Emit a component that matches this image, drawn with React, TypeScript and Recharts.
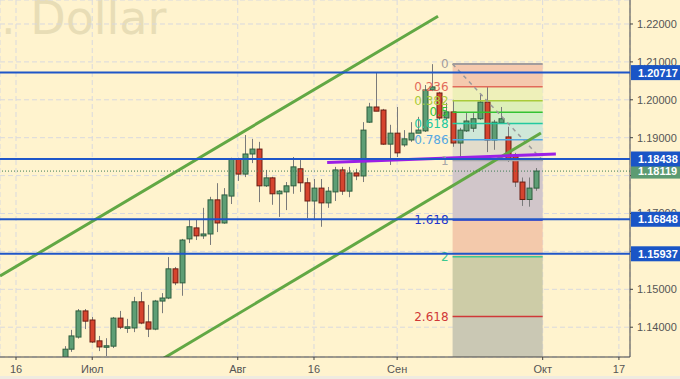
import React from 'react';
import {
  ComposedChart,
  Bar,
  XAxis,
  YAxis,
  CartesianGrid,
  ReferenceLine,
  ReferenceArea,
} from 'recharts';

// ---- candle data (bar index = trading day counted from 16 Jun) ----
const barIndex = [
  7, 8, 9, 10, 11, 12, 13, 14, 15, 16, 17, 18, 19, 20, 21, 22, 23, 24, 25, 26,
  27, 28, 29, 30, 31, 32, 33, 34, 35, 36, 37, 38, 39, 40, 41, 42, 43, 44, 45, 46,
  47, 48, 49, 50, 51, 52, 53, 54, 55, 56, 57, 58, 59, 60, 61, 62, 63, 64, 65, 66,
  67, 68, 69, 70, 71, 72, 73, 74, 75,
];
const opens = [
  1.13, 1.1342, 1.1374, 1.1443, 1.1419, 1.1364, 1.135, 1.135, 1.1424, 1.1398,
  1.1398, 1.1467, 1.1414, 1.1395, 1.1469, 1.1477, 1.1554, 1.1517, 1.1633, 1.1662,
  1.1641, 1.1646, 1.1736, 1.1675, 1.1746, 1.1844, 1.1804, 1.1857, 1.187, 1.1773,
  1.1794, 1.1752, 1.1757, 1.1773, 1.1818, 1.1781, 1.1733, 1.1767, 1.1728, 1.1757,
  1.1815, 1.1759, 1.1807, 1.1799, 1.1941, 1.1981, 1.1973, 1.1883, 1.1912, 1.1881,
  1.1894, 1.1912, 1.1918, 1.2026, 1.2018, 1.1952, 1.1968, 1.1886, 1.1918, 1.1925,
  1.195, 1.1994, 1.1894, 1.1939, 1.1902, 1.185, 1.1783, 1.1737, 1.1767,
];
const highs = [
  1.135, 1.1393, 1.1448, 1.1448, 1.1427, 1.1377, 1.1371, 1.1427, 1.1443, 1.1422,
  1.148, 1.1493, 1.1459, 1.1472, 1.149, 1.1585, 1.1559, 1.1633, 1.1686, 1.1683,
  1.1715, 1.1744, 1.178, 1.1767, 1.1847, 1.1847, 1.1907, 1.1897, 1.1889, 1.1815,
  1.1797, 1.1762, 1.1783, 1.1849, 1.1841, 1.1794, 1.1791, 1.1791, 1.177, 1.1823,
  1.1823, 1.1823, 1.1818, 1.1941, 1.1992, 1.2073, 1.1976, 1.1934, 1.1981, 1.192,
  1.1941, 1.1955, 1.2039, 1.2094, 1.2021, 1.1992, 1.2, 1.1926, 1.1965, 1.1965,
  1.2013, 1.2036, 1.1947, 1.1981, 1.1929, 1.186, 1.1795, 1.1795, 1.182,
];
const lows = [
  1.129, 1.1335, 1.137, 1.1395, 1.1358, 1.1337, 1.1324, 1.1345, 1.1395, 1.1385,
  1.1387, 1.1408, 1.1374, 1.1392, 1.1437, 1.1474, 1.1511, 1.1483, 1.1622, 1.163,
  1.1633, 1.1617, 1.1651, 1.1673, 1.1725, 1.1786, 1.1796, 1.1833, 1.173, 1.177,
  1.1723, 1.1691, 1.1709, 1.1752, 1.1757, 1.1688, 1.1686, 1.1665, 1.1715, 1.1733,
  1.1749, 1.1743, 1.1788, 1.1783, 1.1939, 1.197, 1.1881, 1.1828, 1.1849, 1.1876,
  1.1889, 1.1912, 1.1915, 1.2023, 1.1947, 1.1947, 1.1876, 1.1841, 1.1915, 1.1915,
  1.1947, 1.1862, 1.1868, 1.1939, 1.1836, 1.177, 1.172, 1.1718, 1.176,
];
const closes = [
  1.1342, 1.1377, 1.1443, 1.1416, 1.1361, 1.1348, 1.1351, 1.1424, 1.14, 1.1401,
  1.1467, 1.1411, 1.1395, 1.1469, 1.1477, 1.1554, 1.1517, 1.163, 1.1665, 1.1641,
  1.1646, 1.1736, 1.1675, 1.1749, 1.1844, 1.1804, 1.1857, 1.187, 1.1773, 1.1794,
  1.1752, 1.1759, 1.1773, 1.1823, 1.1781, 1.1733, 1.1767, 1.1728, 1.1759, 1.1815,
  1.1759, 1.1807, 1.1799, 1.192, 1.1981, 1.197, 1.1883, 1.1912, 1.186, 1.1897,
  1.1912, 1.192, 1.2026, 1.2034, 1.1952, 1.1968, 1.1886, 1.192, 1.1944, 1.195,
  1.1994, 1.1894, 1.1941, 1.195, 1.1844, 1.1783, 1.1737, 1.1767, 1.1812,
];

// ---- axes ----
const xTickIndex = [0, 11, 32, 43, 55, 76, 87];
const xTickLabels = ['16', 'Июл', 'Авг', '16', 'Сен', 'Окт', '17'];
const priceTicks = [1.14, 1.15, 1.16, 1.17, 1.18, 1.19, 1.2, 1.21, 1.22];
// tick labels fully covered by price tags in the reference
const hiddenPriceTicks = [1.16, 1.18];
const xDomain = [-2.309, 88.6];
const yDomain = [1.13214, 1.22633];

// ---- horizontal levels ----
const levelPrices = [1.20717, 1.18438, 1.16848, 1.15937];
const levelLabels = ['1.20717', '1.18438', '1.16848', '1.15937'];
const currentPrice = 1.18119;
const currentLabel = '1.18119';

// ---- fibonacci ----
const fibHigh = 1.20945;
const fibLow = 1.18401;
const fibStart = 63;
const fibEnd = 76;
const fibRatios = [0, 0.236, 0.382, 0.5, 0.618, 0.786, 1, 1.618, 2, 2.618];
const fibLabels = ['0', '0.236', '0.382', '0.5', '0.618', '0.786', '1', '1.618', '2', '2.618'];
const fibLineColors = ['#a39c9c', '#e26a5a', '#a9cb3a', '#33c233', '#22c9a0', '#55a8e0', '#a8a8a8', '#2233cc', '#3cc890', '#d03838'];
// band k lies between ratio k and ratio k+1 (last band: 2.618 down to the bottom)
const fibBandColors = ['#f5c9ae', '#eef0b9', '#ddefb9', '#d2eec6', '#cfe8d8', '#e2dccb', '#d1c6ca', '#f3c9ab', '#cdcca7', '#cac8b4'];

// ---- trend lines (bar index, price) ----
const channelUpper = [{ x: -2.3, y: 1.15351 }, { x: 60.9, y: 1.22206 }];
const channelLower = [{ x: 21.3, y: 1.1318 }, { x: 75.75, y: 1.19124 }];
const purpleLine = [{ x: 44.9, y: 1.18346 }, { x: 77.9, y: 1.1857 }];

const data = barIndex.map((i, k) => ({
  i,
  open: opens[k],
  high: highs[k],
  low: lows[k],
  close: closes[k],
}));

const fibPrice = (r: number) => fibHigh - (fibHigh - fibLow) * r;

const Candle = (props: any) => {
  const { x, y, width, height } = props;
  const p = props.payload || props;
  const { open, close, high, low } = p;
  if (x == null || y == null) return null;
  const cx = Math.round(x + width / 2) + 0.5;
  const range = high - low;
  const ppu = range > 0 ? height / range : 0;
  const top = y + (high - Math.max(open, close)) * ppu;
  const bot = y + (high - Math.min(open, close)) * ppu;
  const up = close >= open;
  const bh = Math.max(bot - top, 1.5);
  return (
    <g>
      <line x1={cx} x2={cx} y1={y} y2={y + height} stroke="#7a7a7a" strokeWidth={1} />
      <rect
        x={cx - 2.5}
        y={top}
        width={5}
        height={bh}
        fill={up ? '#5e9e75' : '#d6442e'}
        stroke={up ? '#2e5e3e' : '#6b1d12'}
        strokeWidth={1}
      />
    </g>
  );
};

const PriceTag = (props: any) => {
  const vb = props.viewBox || {};
  const yy = vb.y + (vb.height || 0) / 2;
  const xx = vb.x + vb.width;
  return (
    <g>
      <rect x={xx + 1} y={yy - 7.5} width={50} height={15} fill={props.color} />
      <text
        x={xx + 8}
        y={yy + 4}
        fill="#ffffff"
        fontSize={11}
        fontWeight="bold"
        fontFamily="'Liberation Sans', Arial, sans-serif"
      >
        {props.text}
      </text>
    </g>
  );
};

const bandTop = (k: number) => fibPrice(fibRatios[k]);
const bandBottom = (k: number) =>
  k + 1 < fibRatios.length ? fibPrice(fibRatios[k + 1]) : yDomain[0] + 0.00001;

export default function App() {
  return (
    <div
      style={{
        position: 'absolute',
        left: 0,
        top: 0,
        width: 680,
        height: 379,
        background: '#fff3ce',
        overflow: 'hidden',
      }}
    >
      <div
        style={{
          position: 'absolute',
          left: 1,
          top: -9,
          fontFamily: "'DejaVu Sans', sans-serif",
          fontSize: 46,
          color: '#e8ddb6',
          whiteSpace: 'pre',
          lineHeight: '54px',
        }}
      >
        {'. Dollar'}
      </div>
      <div style={{ position: 'absolute', left: 0, top: 376, width: 680, height: 3, background: '#efebe0' }} />
      <div style={{ position: 'absolute', left: 0, top: 0 }}>
        <ComposedChart
          width={680}
          height={379}
          data={data}
          margin={{ top: 0, right: 0, bottom: 0, left: 0 }}
        >
          <CartesianGrid stroke="#d9d9de" strokeDasharray="5 3" />
          <XAxis
            dataKey="i"
            type="number"
            domain={xDomain}
            allowDataOverflow
            ticks={xTickIndex}
            tickFormatter={(v: number) => xTickLabels[xTickIndex.indexOf(v)] ?? ''}
            height={22}
            tickSize={3}
            tickMargin={5}
            interval={0}
            stroke="#444"
            tick={{ fill: '#555', fontSize: 11, fontFamily: "'Liberation Sans', Arial, sans-serif" }}
          />
          <YAxis
            orientation="right"
            type="number"
            domain={yDomain}
            allowDataOverflow
            ticks={priceTicks}
            tickFormatter={(v: number) =>
              hiddenPriceTicks.some((h) => Math.abs(h - v) < 1e-6) ? '' : v.toFixed(5)
            }
            width={50}
            tickSize={3}
            tickMargin={4}
            interval={0}
            stroke="#444"
            tick={{ fill: '#555', fontSize: 11, fontFamily: "'Liberation Sans', Arial, sans-serif" }}
          />
          {fibRatios.map((r, k) => (
            <ReferenceArea
              key={'band' + k}
              x1={fibStart}
              x2={fibEnd}
              y1={bandTop(k)}
              y2={bandBottom(k)}
              fill={fibBandColors[k]}
              fillOpacity={1}
              stroke="none"
              ifOverflow="hidden"
            />
          ))}
          <Bar
            dataKey={(d: any) => [d.low, d.high]}
            barSize={5}
            shape={<Candle />}
            isAnimationActive={false}
          />
          {fibRatios.map((r, k) => (
            <ReferenceLine
              key={'fib' + k}
              segment={[
                { x: fibStart, y: fibPrice(r) },
                { x: fibEnd, y: fibPrice(r) },
              ]}
              stroke={fibLineColors[k]}
              strokeWidth={k === 0 ? 2 : 1.5}
              ifOverflow="hidden"
              label={{
                value: fibLabels[k],
                position: 'left',
                offset: 4,
                fill: fibLineColors[k],
                fontSize: 12,
                fontFamily: "'DejaVu Sans', sans-serif",
              }}
            />
          ))}
          <ReferenceLine
            segment={[
              { x: fibStart, y: fibHigh },
              { x: fibEnd, y: fibLow },
            ]}
            stroke="#9a9a9a"
            strokeWidth={1.5}
            strokeDasharray="4 4"
            ifOverflow="hidden"
          />
          <ReferenceLine segment={channelUpper} stroke="#62a844" strokeWidth={3} ifOverflow="hidden" />
          <ReferenceLine segment={channelLower} stroke="#62a844" strokeWidth={3} ifOverflow="hidden" />
          <ReferenceLine segment={purpleLine} stroke="#9a1fe6" strokeWidth={3} ifOverflow="hidden" />
          <ReferenceLine
            y={currentPrice}
            stroke="#3d7d55"
            strokeWidth={1}
            strokeDasharray="1 2"
            zIndex={3000}
            label={<PriceTag text={currentLabel} color="#5d9b72" />}
          />
          {levelPrices.map((p, k) => (
            <ReferenceLine
              key={'lvl' + k}
              y={p}
              stroke="#1f56c8"
              strokeWidth={2}
              zIndex={3000}
              label={<PriceTag text={levelLabels[k]} color="#1a55c6" />}
            />
          ))}
        </ComposedChart>
      </div>
    </div>
  );
}
